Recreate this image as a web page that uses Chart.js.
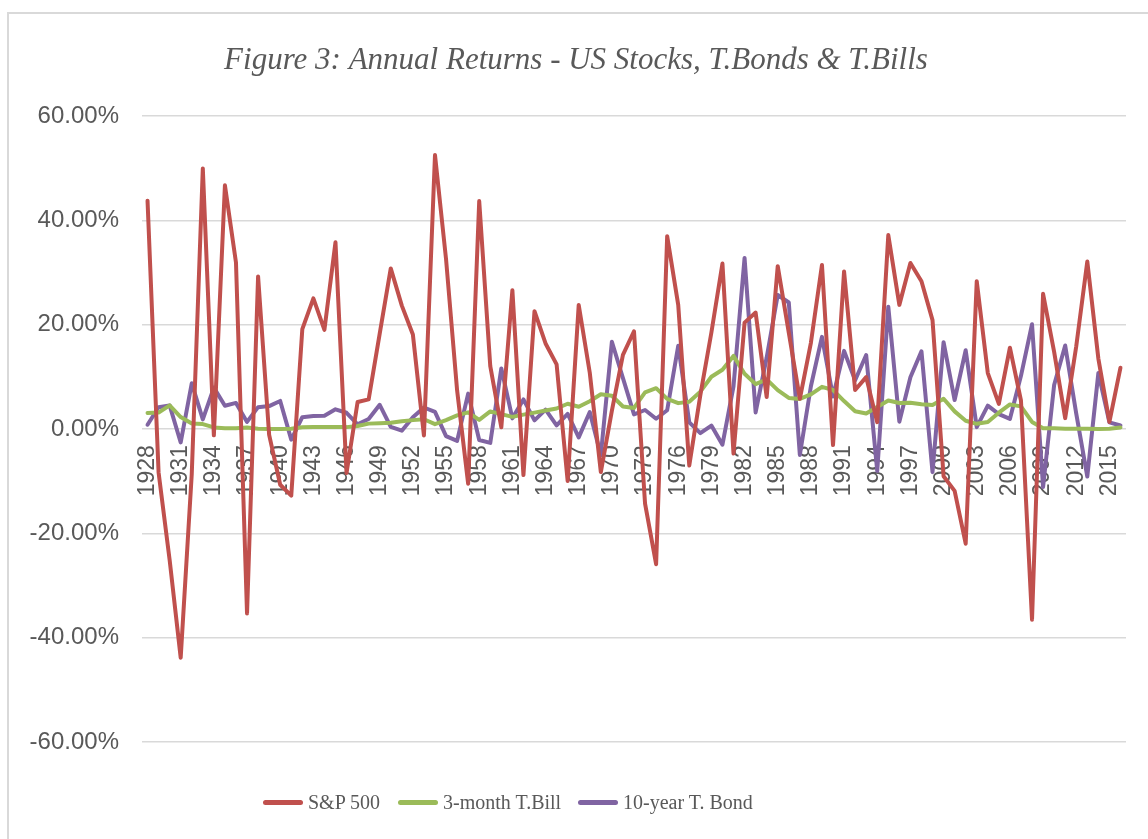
<!DOCTYPE html>
<html>
<head>
<meta charset="utf-8">
<script src="https://cdn.jsdelivr.net/npm/chart.js@4.4.1/dist/chart.umd.min.js"></script>
<style>
    html, body { margin: 0; padding: 0; background: #fff; overflow: hidden; }
    #frame { position: absolute; left: 7px; top: 12px; width: 1200px; height: 900px; border: 2px solid #d9d9d9; }
    #wrap { position: absolute; left: 0; top: 0; width: 1148px; height: 839px; }
    #legend { position: absolute; left: 0; top: 789px; width: 1148px; height: 26px; }
    .item { position: absolute; top: 0; height: 26px; display: flex; align-items: center;
            font-family: 'Liberation Serif', serif; font-size: 20px; color: #595959; white-space: nowrap; }
    .item span.swatch { display: inline-block; width: 40px; height: 5px; border-radius: 3px; margin-right: 5px; }
</style>
</head>
<body>
<div id="frame"></div>
<div id="wrap"><canvas id="returnsChart" width="1148" height="839"></canvas></div>
<div id="legend"></div>
<script>
// years 1928 - 2016
const years = [];
for (let y = 1928; y <= 2016; y++) years.push(String(y));

// annual returns, %
const sp500 = [
    43.81, -8.30, -25.12, -43.84, -8.64, 49.98, -1.19, 46.74, 31.94, -35.34,
    29.28, -1.10, -10.67, -12.77, 19.17, 25.06, 19.03, 35.82, -8.43, 5.20,
    5.70, 18.30, 30.81, 23.68, 18.15, -1.21, 52.56, 32.60, 7.44, -10.46,
    43.72, 12.06, 0.34, 26.64, -8.81, 22.61, 16.42, 12.40, -9.97, 23.80,
    10.81, -8.24, 3.56, 14.22, 18.76, -14.31, -25.90, 37.00, 23.83, -6.98,
    6.51, 18.52, 31.74, -4.70, 20.42, 22.34, 6.15, 31.24, 18.49, 5.81,
    16.54, 31.48, -3.06, 30.23, 7.49, 9.97, 1.33, 37.20, 23.82, 31.86,
    28.34, 20.89, -9.03, -11.85, -21.97, 28.36, 10.74, 4.83, 15.61, 5.48,
    -36.55, 25.94, 14.82, 2.10, 15.89, 32.15, 13.52, 1.38, 11.77
];
const tBill = [
    3.08, 3.16, 4.55, 2.31, 1.07, 0.96, 0.32, 0.18, 0.17, 0.30,
    0.08, 0.04, 0.03, 0.08, 0.34, 0.38, 0.38, 0.38, 0.38, 0.60,
    1.05, 1.12, 1.20, 1.52, 1.72, 1.89, 0.94, 1.72, 2.62, 3.22,
    1.77, 3.39, 2.88, 2.35, 2.77, 3.16, 3.55, 3.95, 4.86, 4.29,
    5.34, 6.67, 6.39, 4.33, 4.06, 7.04, 7.85, 5.79, 4.98, 5.26,
    7.18, 10.05, 11.39, 14.04, 10.60, 8.62, 9.54, 7.47, 5.97, 5.78,
    6.67, 8.11, 7.50, 5.38, 3.43, 3.00, 4.25, 5.49, 5.01, 5.06,
    4.78, 4.64, 5.82, 3.40, 1.61, 1.01, 1.37, 3.15, 4.73, 4.36,
    1.37, 0.15, 0.14, 0.05, 0.09, 0.06, 0.03, 0.05, 0.32
];
const tBond = [
    0.84, 4.20, 4.54, -2.56, 8.79, 1.86, 7.96, 4.47, 5.02, 1.38,
    4.21, 4.41, 5.40, -2.02, 2.29, 2.49, 2.58, 3.80, 3.13, 0.92,
    1.95, 4.66, 0.43, -0.30, 2.27, 4.14, 3.29, -1.34, -2.26, 6.80,
    -2.10, -2.65, 11.64, 2.06, 5.69, 1.68, 3.73, 0.72, 2.91, -1.58,
    3.27, -5.01, 16.75, 9.79, 2.82, 3.66, 1.99, 3.61, 15.98, 1.29,
    -0.78, 0.67, -2.99, 8.20, 32.81, 3.20, 13.73, 25.71, 24.28, -4.96,
    8.22, 17.69, 6.24, 15.00, 9.36, 14.21, -8.04, 23.48, 1.43, 9.94,
    14.92, -8.25, 16.66, 5.57, 15.12, 0.38, 4.49, 2.87, 1.96, 10.21,
    20.10, -11.12, 8.46, 16.04, 2.97, -9.10, 10.75, 1.28, 0.69
];

const yTicks = [-60, -40, -20, 0, 20, 40, 60];

function series(label, data, color) {
    return {
        label: label,
        data: data,
        borderColor: color,
        backgroundColor: color,
        borderWidth: 4,
        pointRadius: 0,
        tension: 0,
        borderCapStyle: 'round',
        borderJoinStyle: 'round'
    };
}

const ctx = document.getElementById('returnsChart').getContext('2d');

const chart = new Chart(ctx, {
    type: 'line',
    data: {
        labels: years,
        datasets: [
            series('S&P 500', sp500, '#c0504d'),
            series('3-month T.Bill', tBill, '#9bbb59'),
            series('10-year T. Bond', tBond, '#8064a2')
        ]
    },
    options: {
        responsive: false,
        animation: false,
        layout: { padding: { left: 26, right: 22, top: 0, bottom: 97 } },
        scales: {
            x: {
                position: { y: 0 },
                offset: true,
                grid: { display: false, drawTicks: false },
                border: { display: false },
                afterFit: function (scale) {
                    scale.paddingLeft = 0;
                    scale.paddingRight = 0;
                },
                ticks: {
                    autoSkip: false,
                    maxRotation: 90,
                    minRotation: 90,
                    padding: 16,
                    color: '#595959',
                    font: { family: 'Liberation Sans', size: 23 },
                    callback: function (value, index) {
                        return index % 3 === 0 ? this.getLabelForValue(value) : '';
                    }
                }
            },
            y: {
                min: -60,
                max: 60,
                afterBuildTicks: function (scale) {
                    scale.ticks = yTicks.map(v => ({ value: v }));
                },
                afterFit: function (scale) {
                    scale.width = 116;
                },
                grid: { color: '#d9d9d9', lineWidth: 1.5, drawTicks: false },
                border: { display: false },
                ticks: {
                    padding: 23,
                    color: '#595959',
                    font: { family: 'Liberation Sans', size: 24 },
                    callback: v => v.toFixed(2) + '%'
                }
            }
        },
        plugins: {
            title: {
                display: true,
                text: 'Figure 3: Annual Returns - US Stocks, T.Bonds & T.Bills',
                color: '#595959',
                font: { family: 'Liberation Serif', size: 31, style: 'italic', weight: 'normal', lineHeight: 1.2 },
                padding: { top: 42, bottom: 37 }
            },
            legend: { display: false },
            tooltip: { enabled: false }
        }
    }
});

// legend below the plot, built from the chart's datasets
const legendLeft = [263, 398, 578];
const legendEl = document.getElementById('legend');
chart.data.datasets.forEach((ds, i) => {
    const item = document.createElement('div');
    item.className = 'item';
    item.style.left = legendLeft[i] + 'px';
    const sw = document.createElement('span');
    sw.className = 'swatch';
    sw.style.background = ds.borderColor;
    item.appendChild(sw);
    item.appendChild(document.createTextNode(ds.label));
    legendEl.appendChild(item);
});
</script>
</body>
</html>
